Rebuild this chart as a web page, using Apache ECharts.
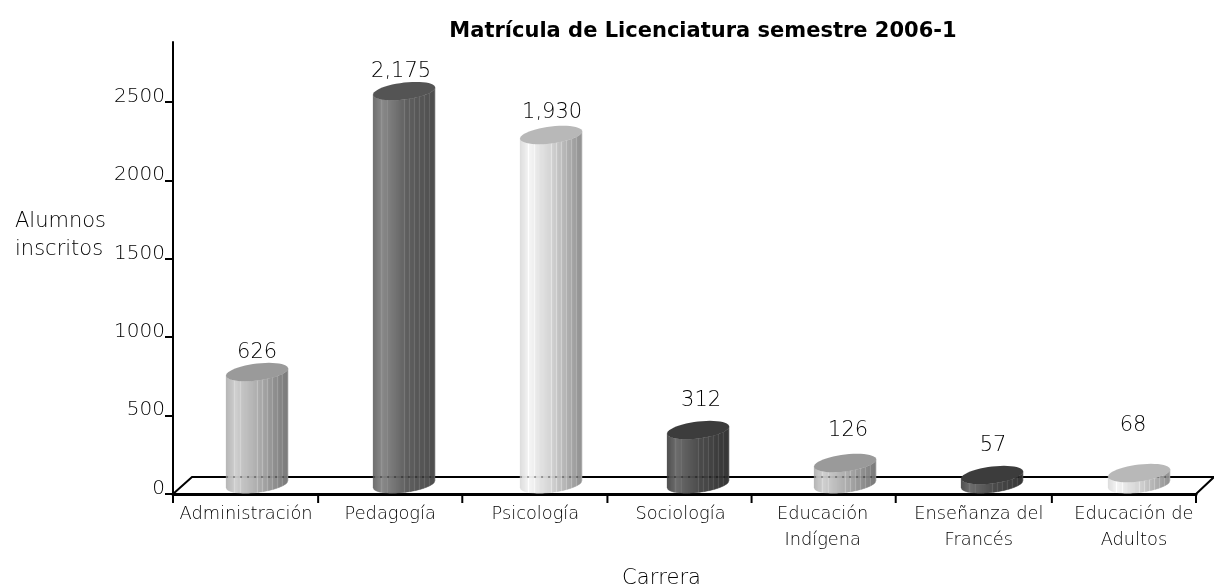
<!DOCTYPE html>
<html lang="es"><head><meta charset="utf-8"><title>Matrícula de Licenciatura</title>
<style>html,body{margin:0;padding:0;background:#fff}#c{width:1214px;height:587px}</style>
<script src="https://cdn.jsdelivr.net/npm/echarts@6/dist/echarts.min.js"></script></head>
<body><div id="c"></div>
<script>
const careers = ['Administración','Pedagogía','Psicología','Sociología','Educación\nIndígena','Enseñanza del\nFrancés','Educación de\nAdultos'];
// Drawn height of each cylinder as read against the axis (the reference's labels disagree with its axis)
const drawnHeights = [714, 2506, 2226, 344, 134, 57, 70];
// Value printed above each cylinder in the reference
const printedValues = ['626','2,175','1,930','312','126','57','68'];
const yTicks = [0,500,1000,1500,2000,2500];
const labelLift = [20,20,22,30,32,30,47];
const labelShift = [0,-3,1,3,3,1,-6];
const categoryLabelShift = [0,-2,-3,-4,-8,2,11];
const tickShift = [0,-1,-3,-4,-6,-8,2,0];
const tones = [0,1,2,3,0,3,2];
const palettes = [
 {body:['#b4b4b4','#cecece','#a8a8a8','#747474'], top:'#9a9a9a'},
 {body:['#6a6a6a','#868686','#5a5a5a','#484848'], top:'#545454'},
 {body:['#dcdcdc','#f5f5f5','#cccccc','#8c8c8c'], top:'#b8b8b8'},
 {body:['#4a4a4a','#686868','#444444','#303030'], top:'#3c3c3c'}
];
const FONT = '"DejaVu Sans ExtraLight","DejaVu Sans Light","DejaVu Sans"';
const hex = h => [1,3,5].map(i => parseInt(h.substr(i,2),16));
const mix = (a,b,t) => { const A=hex(a),B=hex(b); return A.map((v,i)=>Math.round(v+(B[i]-v)*t)); };
function shade(stops,u,bright){
  const c = u<.15 ? mix(stops[0],stops[1],u/.15) : u<.55 ? mix(stops[1],stops[2],(u-.15)/.4) : mix(stops[2],stops[3],(u-.55)/.45);
  return 'rgb('+c.map(v=>Math.min(255,v+bright)).join(',')+')';
}
const R = 31, B = 8.5, TILT = -0.115, DX = 11, DY = -10, SKEW = 0.86;
function cylinder(params, api){
  const i = api.value(0), h = api.value(1);
  const base = api.coord([i,0]), top = api.coord([i,h]);
  const cx = base[0]+DX+i*SKEW, by = base[1]+DY, ty = top[1]+DY;
  const pal = palettes[tones[i]];
  const kids = [];
  const edge = (x,cy,s) => cy+TILT*(x-cx)+s*B*Math.sqrt(Math.max(0,1-((x-cx)/R)*((x-cx)/R)));
  const N = 62;
  for(let k=0;k<N;k++){
    const x0=cx-R+2*R*k/N, x1=cx-R+2*R*(k+1)/N, u=(k+.5)/N;
    const br = (u>.46 && k%5===1) ? 24 : (k===8||k===14 ? 14 : 0);
    kids.push({type:'polygon',shape:{points:[[x0,edge(x0,ty,1)],[x1,edge(x1,ty,1)],[x1,edge(x1,by,1)],[x0,edge(x0,by,1)]]},
      style:{fill:shade(pal.body,u,br),stroke:shade(pal.body,u,br),lineWidth:.3}});
  }
  kids.push({type:'line',shape:{x1:cx-R,y1:by-7,x2:cx+R,y2:by-7},style:{stroke:'#000',opacity:.3,lineWidth:2,lineDash:[2,5]}});
  const pts=[];
  for(let a=0;a<48;a++){const t=a/48*Math.PI*2, x=cx+R*Math.cos(t); pts.push([x,ty+TILT*(x-cx)+B*Math.sin(t)]);}
  kids.push({type:'polygon',shape:{points:pts},style:{fill:pal.top}});
  kids.push({type:'text',style:{text:printedValues[i],x:cx+labelShift[i],y:ty-labelLift[i],align:'center',verticalAlign:'middle',font:'21px '+FONT,fill:'#000'}});
  return {type:'group',children:kids};
}
function floor(params, api){
  const band = api.size([1,0])[0], o = api.coord([0,0]);
  const x0=o[0]-band/2, y=o[1], xr=x0+band*careers.length;
  const style={stroke:'#000',lineWidth:2,fill:null};
  const kids=[{type:'polyline',shape:{points:[[x0,y],[x0+19,y-17],[xr+18,y-17],[xr,y]]},style}];
  tickShift.forEach((s,k)=>{const x=x0+band*k+s; kids.push({type:'line',shape:{x1:x,y1:y,x2:x,y2:y+9},style:{stroke:'#000',lineWidth:2}});});
  return {type:'group',children:kids};
}
const chart = echarts.init(document.getElementById('c'));
chart.setOption({
  animation:false, backgroundColor:'#fff',
  title:{text:'Matrícula de Licenciatura semestre 2006-1',left:698,top:16,textAlign:'center',textStyle:{fontFamily:'"DejaVu Sans"',fontWeight:'bold',fontSize:21,color:'#000'}},
  grid:{left:173,top:42,width:1023,height:452,containLabel:false,outerBoundsMode:'none'},
  xAxis:{type:'category',
    data:careers.map((c,i)=>{const s=categoryLabelShift[i]; return {value:c,textStyle:{padding:s>0?[0,0,0,2*s]:[0,-2*s,0,0]}};}),
    name:'Carrera',nameLocation:'middle',nameGap:74,
    nameTextStyle:{fontFamily:FONT,fontSize:21,color:'#000',padding:[0,46,0,0]},
    axisLine:{lineStyle:{color:'#000',width:3}},axisTick:{show:false},
    axisLabel:{interval:0,fontFamily:FONT,fontSize:17.8,color:'#000',lineHeight:26,margin:7,hideOverlap:false}},
  yAxis:{type:'value',min:0,max:2883,interval:500,splitLine:{show:false},
    name:'Alumnos\ninscritos',nameLocation:'middle',nameRotate:0,nameGap:158,
    nameTextStyle:{fontFamily:FONT,fontSize:21,color:'#000',align:'left',verticalAlign:'bottom',lineHeight:28,padding:[0,0,4,0]},
    axisLine:{show:true,lineStyle:{color:'#000',width:2}},
    axisTick:{show:true,length:8,customValues:yTicks,lineStyle:{color:'#000',width:2}},
    axisLabel:{customValues:yTicks,formatter:v=>String(v),fontFamily:FONT,fontSize:20,color:'#000',margin:8,verticalAlign:'bottom',lineHeight:11}},
  series:[
    {type:'custom',name:'piso',renderItem:floor,data:[[0,0]],silent:true,z:1,clip:false},
    {type:'custom',name:'Alumnos inscritos',renderItem:cylinder,z:2,clip:false,
     encode:{x:0,y:1},data:drawnHeights.map((v,i)=>[i,v])}
  ]
});
</script></body></html>
